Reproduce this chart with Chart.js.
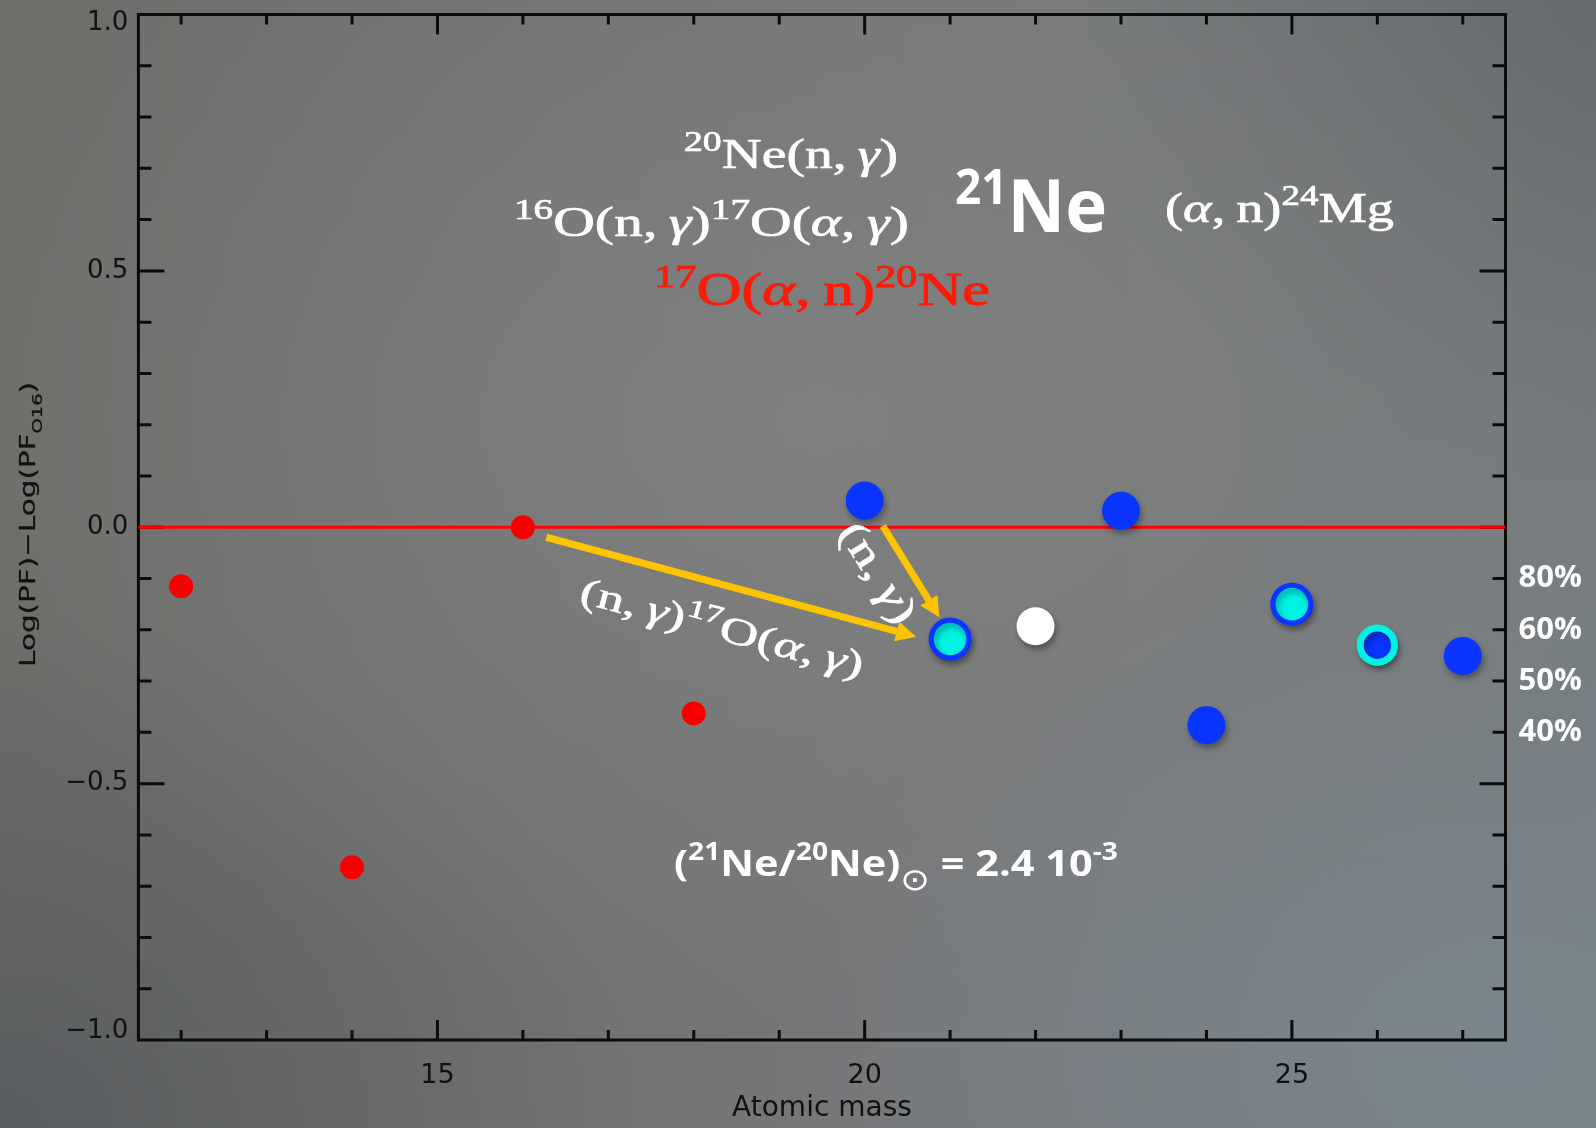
<!DOCTYPE html>
<html>
<head>
<meta charset="utf-8">
<title>21Ne production factors</title>
<script src="https://cdn.jsdelivr.net/npm/chart.js@4/dist/chart.umd.min.js"></script>
<style>
  html, body { margin: 0; padding: 0; }
  body {
    width: 1596px; height: 1128px; overflow: hidden;
    background-color: #76787a;
    background-image:
      radial-gradient(ellipse 900px 600px at 820px 420px, rgba(128,129,128,0.85), rgba(128,129,128,0) 100%),
      radial-gradient(ellipse 700px 500px at 1500px 1050px, rgba(122,134,142,0.95), rgba(122,134,142,0) 100%),
      radial-gradient(ellipse 650px 520px at 0px 1128px, rgba(86,90,94,0.85), rgba(86,90,94,0) 100%),
      radial-gradient(ellipse 520px 520px at 1596px 0px, rgba(98,100,101,0.75), rgba(98,100,101,0) 100%),
      linear-gradient(90deg, #6e6d6a, #77787a 60%, #767c80);
  }
  canvas { display: block; }
</style>
</head>
<body>
<canvas id="pf" width="1596" height="1128"></canvas>
<script>
// Production factors relative to 16O, by atomic mass
const redMass   = [12, 14, 16, 18];
const redVal    = [-0.115, -0.663, 0.0, -0.363];
const blueMass  = [20, 23, 24, 27];
const blueVal   = [0.052, 0.032, -0.386, -0.251];
const cyanMass  = [21, 25];
const cyanVal   = [-0.218, -0.150];
const ringMass  = [26];
const ringVal   = [-0.230];
const whiteMass = [22];
const whiteVal  = [-0.193];

// reference line at the 16O level
const refMass = [11.5, 27.5];
const refVal  = [0, 0];

// axis ticks and labels
const xTickValues = [15, 20, 25];
const yTickValues = [-1, -0.5, 0, 0.5, 1];
const pctTickValues = [-0.1, -0.2, -0.3, -0.4];
const pctLabels = ['80%', '60%', '50%', '40%'];

// reaction-path arrows, in data coordinates
const arrowFrom = [[16.275, -0.0195], [20.212, 0.0025]];
const arrowTo   = [[20.602, -0.2134], [20.875, -0.1756]];

const pts = (xs, ys) => xs.map((x, i) => ({ x, y: ys[i] }));

const BLUE = '#0a34ff', CYAN = '#00f2e2', RED = '#f70000';

// plot frame on the page
const FRAME = { left: 138.4, top: 14.5, right: 1505.5, bottom: 1040 };

// ---- rich text with superscripts / subscripts ----
function drawRich(ctx, segs, o) {
  ctx.save();
  ctx.translate(o.x, o.y);
  ctx.rotate(o.angle || 0);
  const parts = segs.map(s => {
    const k = (s.sup || s.sub) ? (s.k || 0.68) : 1;
    const size = o.size * k;
    const weight = s.weight || o.weight || 'normal';
    const fam = s.family || o.family;
    const font = (s.italic ? 'italic ' : '') + weight + ' ' + size + 'px ' + fam;
    ctx.font = font;
    const w = ctx.measureText(s.t).width;
    const dy = s.sup ? -o.size * (s.rise || o.rise || 0.4) : s.sub ? o.size * (s.drop || 0.3) : 0;
    return { t: s.t, font, w, dy };
  });
  const natural = parts.reduce((a, p) => a + p.w, 0);
  const k = o.width ? o.width / natural : 1;
  ctx.scale(k, 1);
  let cx = o.align === 'center' ? -natural / 2 : 0;
  const baseY = o.dy || 0;
  ctx.fillStyle = o.color;
  ctx.strokeStyle = o.color;
  ctx.lineWidth = o.stroke || 0;
  ctx.lineJoin = 'round';
  ctx.textAlign = 'left';
  ctx.textBaseline = 'alphabetic';
  for (const p of parts) {
    ctx.font = p.font;
    ctx.fillText(p.t, cx, baseY + p.dy);
    if (o.stroke) ctx.strokeText(p.t, cx, baseY + p.dy);
    cx += p.w;
  }
  ctx.restore();
}

const SERIF = '"Liberation Serif", "DejaVu Serif", serif';
const SANS = '"Open Sans", "DejaVu Sans", sans-serif';
const TS = '\u2009';

// ---- pin the plot area and axis boxes to fixed page positions ----
const pinPlugin = {
  id: 'pin',
  afterLayout(chart) {
    const f = FRAME, W = chart.width, H = chart.height;
    chart.chartArea = { left: f.left, top: f.top, right: f.right, bottom: f.bottom,
                        width: f.right - f.left, height: f.bottom - f.top };
    const set = (s, l, t, r, b) => {
      s.left = l; s.top = t; s.right = r; s.bottom = b;
      s.width = r - l; s.height = b - t;
      s._labelItems = null;
      s.configure();
    };
    const { x, y, y2 } = chart.scales;
    set(x, f.left, f.bottom, f.right, H);
    set(y, 0, f.top, f.left, f.bottom);
    set(y2, f.right, f.top, W, f.bottom);
  }
};

// ---- frame with inward ticks on all four sides ----
const framePlugin = {
  id: 'frame',
  beforeDatasetsDraw(chart) {
    const { ctx, chartArea: a, scales: { x, y } } = chart;
    ctx.save();
    ctx.strokeStyle = '#0b0b0b';
    ctx.lineWidth = 3;
    ctx.strokeRect(a.left, a.top, a.right - a.left, a.bottom - a.top);
    ctx.beginPath();
    for (let m = Math.ceil(x.min); m <= Math.floor(x.max); m++) {
      const px = x.getPixelForValue(m);
      const L = m % 5 === 0 ? 20 : 10;
      ctx.moveTo(px, a.bottom); ctx.lineTo(px, a.bottom - L);
      ctx.moveTo(px, a.top); ctx.lineTo(px, a.top + L);
    }
    for (let i = -9; i <= 9; i++) {
      const py = y.getPixelForValue(i / 10);
      const L = i % 5 === 0 ? 26 : 13;
      ctx.moveTo(a.left, py); ctx.lineTo(a.left + L, py);
      ctx.moveTo(a.right, py); ctx.lineTo(a.right - L, py);
    }
    ctx.stroke();
    ctx.restore();
  }
};

// ---- soft shadow under the large markers ----
const shadowPlugin = {
  id: 'dotShadow',
  beforeDatasetDraw(chart, args) {
    const ds = chart.data.datasets[args.index];
    chart.ctx.save();
    if (ds.castShadow) {
      chart.ctx.shadowColor = 'rgba(0,0,0,0.35)';
      chart.ctx.shadowBlur = 6;
      chart.ctx.shadowOffsetX = 2;
      chart.ctx.shadowOffsetY = 4;
    }
  },
  afterDatasetDraw(chart) { chart.ctx.restore(); }
};

// ---- arrows, reaction labels and axis title ----
const notesPlugin = {
  id: 'notes',
  afterDraw(chart) {
    const { ctx, scales: { x, y } } = chart;

    // arrows
    ctx.save();
    ctx.strokeStyle = '#ffc400';
    ctx.fillStyle = '#ffc400';
    ctx.lineWidth = 7;
    for (let i = 0; i < arrowFrom.length; i++) {
      const x0 = x.getPixelForValue(arrowFrom[i][0]), y0 = y.getPixelForValue(arrowFrom[i][1]);
      const x1 = x.getPixelForValue(arrowTo[i][0]), y1 = y.getPixelForValue(arrowTo[i][1]);
      const ang = Math.atan2(y1 - y0, x1 - x0);
      const head = 20, half = 10;
      const bx = x1 - head * Math.cos(ang), by = y1 - head * Math.sin(ang);
      ctx.beginPath();
      ctx.moveTo(x0, y0); ctx.lineTo(bx, by);
      ctx.stroke();
      ctx.beginPath();
      ctx.moveTo(x1, y1);
      ctx.lineTo(bx + half * Math.sin(ang), by - half * Math.cos(ang));
      ctx.lineTo(bx - half * Math.sin(ang), by + half * Math.cos(ang));
      ctx.closePath();
      ctx.fill();
    }
    ctx.restore();

    const W = '#ffffff';
    // reaction chains
    drawRich(ctx, [{ t: '20', sup: 1 }, { t: 'Ne(n,' + TS }, { t: 'γ', italic: 1 }, { t: ')' }],
      { x: 684, y: 168, width: 214, size: 42, family: SERIF, color: W, rise: 0.4, stroke: 0.7 });
    drawRich(ctx, [{ t: '16', sup: 1 }, { t: 'O(n,' + TS }, { t: 'γ', italic: 1 }, { t: ')' },
                   { t: '17', sup: 1 }, { t: 'O(' }, { t: 'α', italic: 1 }, { t: ',' + TS }, { t: 'γ', italic: 1 }, { t: ')' }],
      { x: 514, y: 236, width: 395, size: 42, family: SERIF, color: W, rise: 0.4, stroke: 0.7 });
    drawRich(ctx, [{ t: '17', sup: 1 }, { t: 'O(' }, { t: 'α', italic: 1 }, { t: ',' + TS + 'n)' }, { t: '20', sup: 1 }, { t: 'Ne' }],
      { x: 654, y: 305, width: 336, size: 46, family: SERIF, color: '#ff1a08', rise: 0.4, stroke: 0.9 });
    drawRich(ctx, [{ t: '(' }, { t: 'α', italic: 1 }, { t: ',' + TS + 'n)' }, { t: '24', sup: 1 }, { t: 'Mg' }],
      { x: 1165, y: 222, width: 229, size: 42, family: SERIF, color: W, rise: 0.4, stroke: 0.7 });
    drawRich(ctx, [{ t: '21', sup: 1, k: 0.65 }, { t: 'Ne' }],
      { x: 955, y: 232, width: 152, size: 74, family: SANS, weight: 'bold', color: W, rise: 0.38 });

    // labels along the arrows
    drawRich(ctx, [{ t: '(n,' + TS }, { t: 'γ', italic: 1 }, { t: ')' }, { t: '17', sup: 1 }, { t: 'O(' },
                   { t: 'α', italic: 1 }, { t: ',' + TS }, { t: 'γ', italic: 1 }, { t: ')' }],
      { x: 578, y: 602, angle: 15 * Math.PI / 180, width: 292, size: 38, family: SERIF, color: W, rise: 0.4, stroke: 0.6 });
    drawRich(ctx, [{ t: '(n,' + TS }, { t: 'γ', italic: 1 }, { t: ')' }],
      { x: 879, y: 572, angle: 58 * Math.PI / 180, width: 112, size: 41, family: SERIF, color: W,
        align: 'center', dy: 14, stroke: 0.6 });

    // solar isotopic ratio
    drawRich(ctx, [{ t: '(' }, { t: '21', sup: 1 }, { t: 'Ne/' }, { t: '20', sup: 1 }, { t: 'Ne)' },
                   { t: '⊙', sub: 1, k: 0.85, drop: 0.4, family: '"DejaVu Sans", sans-serif', weight: 'normal' },
                   { t: ' = 2.4 10' }, { t: '-3', sup: 1 }],
      { x: 674, y: 876, width: 444, size: 36, family: SANS, weight: 'bold', color: W, rise: 0.44 });

    // y axis title
    drawRich(ctx, [{ t: 'Log(PF)−Log(PF' }, { t: 'O16', sub: 1, k: 0.66, drop: 0.3 }, { t: ')' }],
      { x: 35, y: 667, angle: -Math.PI / 2, width: 285, size: 22, family: '"DejaVu Sans", sans-serif',
        color: '#111111', stroke: 0.3 });
  }
};

const dot = (data, bg, border, bw, r, shadow) => ({
  data, backgroundColor: bg, borderColor: border, borderWidth: bw,
  pointRadius: r, pointHoverRadius: r, pointBorderWidth: bw, castShadow: shadow, order: 1
});

// y labels: the end labels sit just inside the frame
const yLabel = v => {
  const s = (v < 0 ? '−' : '') + Math.abs(v).toFixed(1);
  if (v >= 1) return ['', s];
  if (v <= -1) return [s, ''];
  return s;
};

new Chart(document.getElementById('pf'), {
  type: 'scatter',
  data: {
    datasets: [
      { data: pts(refMass, refVal), showLine: true, borderColor: '#ff0000', borderWidth: 3,
        pointRadius: 0, pointHoverRadius: 0, order: 10 },
      dot(pts(redMass, redVal), RED, RED, 0, 12, false),
      dot(pts(blueMass, blueVal), BLUE, BLUE, 0, 19, true),
      dot(pts(cyanMass, cyanVal), CYAN, BLUE, 5.2, 18.9, true),
      dot(pts(ringMass, ringVal), BLUE, CYAN, 7, 17.2, true),
      dot(pts(whiteMass, whiteVal), '#ffffff', '#ffffff', 0, 19, true)
    ]
  },
  options: {
    responsive: false,
    animation: false,
    events: [],
    devicePixelRatio: 1,
    layout: { padding: 0 },
    plugins: { legend: { display: false }, tooltip: { enabled: false } },
    scales: {
      x: {
        type: 'linear', min: 11.5, max: 27.5,
        grid: { display: false, drawTicks: false },
        border: { display: false },
        afterBuildTicks: s => { s.ticks = xTickValues.map(v => ({ value: v })); },
        ticks: { color: '#111111', padding: 20, font: { family: '"DejaVu Sans"', size: 27, lineHeight: 1.2 } },
        title: { display: true, text: 'Atomic mass', color: '#111111', padding: { top: 0, bottom: 2 },
                 font: { family: '"DejaVu Sans"', size: 28, lineHeight: 1.2 } }
      },
      y: {
        type: 'linear', position: 'left', min: -1, max: 1,
        grid: { display: false, drawTicks: false },
        border: { display: false },
        afterBuildTicks: s => { s.ticks = yTickValues.map(v => ({ value: v })); },
        ticks: {
          color: '#111111', padding: 10,
          font: { family: '"DejaVu Sans"', size: 26, lineHeight: 0.7 },
          callback: yLabel
        }
      },
      y2: {
        type: 'linear', position: 'right', min: -1, max: 1,
        grid: { display: false, drawTicks: false },
        border: { display: false },
        afterBuildTicks: s => { s.ticks = pctTickValues.map(v => ({ value: v })); },
        ticks: {
          color: '#ffffff', padding: 13,
          font: { family: '"Open Sans"', size: 31, weight: 'bold', lineHeight: 1.0 },
          callback: v => {
            const i = pctTickValues.findIndex(t => Math.abs(t - v) < 1e-9);
            return i >= 0 ? pctLabels[i] : '';
          }
        }
      }
    }
  },
  plugins: [pinPlugin, framePlugin, shadowPlugin, notesPlugin]
});
</script>
</body>
</html>
